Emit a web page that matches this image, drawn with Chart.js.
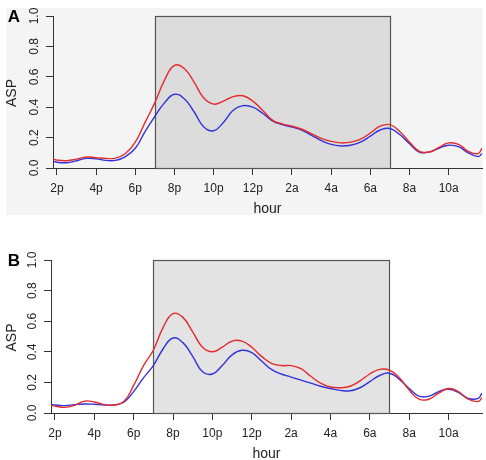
<!DOCTYPE html>
<html><head><meta charset="utf-8">
<script src="https://cdn.jsdelivr.net/npm/chart.js@4/dist/chart.umd.min.js"></script>
<style>
html,body{margin:0;padding:0;background:#fff;}
#wrap{position:relative;width:486px;height:460px;overflow:hidden;}
canvas{position:absolute;left:0;}
</style></head><body>
<div id="wrap">
<canvas id="cA" width="486" height="230" style="top:0px"></canvas>
<canvas id="cB" width="486" height="220" style="top:240px"></canvas>
</div>
<script>
// hour of day (14 = 2p, 26 = 2a next day, ...)
const hours = [13.8,14,14.5,15,15.5,16,16.5,17,17.5,18,18.5,19,19.5,20,20.5,21,21.5,22,22.5,23,23.5,24,24.5,25,25.5,26,26.5,27,27.5,28,28.5,29,29.5,30,30.5,31,31.5,32,32.5,33,33.5,34,34.5,35,35.5,35.7];
const tickHours = [14,16,18,20,22,24,26,28,30,32,34];
const tickLabels = ['2p','4p','6p','8p','10p','12p','2a','4a','6a','8a','10a'];
const yTicks = [0,0.2,0.4,0.6,0.8,1.0];
const yTickLabels = ['0.0','0.2','0.4','0.6','0.8','1.0'];
const darkStart = 19, darkEnd = 31;

const aRed  = [0.060,0.052,0.048,0.058,0.072,0.068,0.063,0.065,0.095,0.17,0.30,0.43,0.58,0.675,0.655,0.565,0.46,0.42,0.44,0.47,0.475,0.44,0.38,0.315,0.29,0.275,0.255,0.225,0.195,0.175,0.165,0.17,0.19,0.23,0.275,0.285,0.24,0.17,0.11,0.105,0.135,0.165,0.155,0.11,0.095,0.13];
const aBlue = [0.045,0.038,0.035,0.048,0.063,0.060,0.050,0.050,0.075,0.13,0.24,0.34,0.43,0.485,0.455,0.37,0.27,0.245,0.30,0.38,0.41,0.40,0.36,0.31,0.285,0.27,0.25,0.215,0.18,0.155,0.145,0.15,0.17,0.21,0.25,0.26,0.22,0.16,0.105,0.105,0.13,0.15,0.14,0.10,0.075,0.095];
const bRed  = [0.050,0.045,0.037,0.050,0.078,0.072,0.055,0.052,0.075,0.18,0.31,0.41,0.56,0.65,0.625,0.53,0.43,0.40,0.43,0.47,0.47,0.43,0.37,0.325,0.31,0.31,0.29,0.24,0.195,0.17,0.165,0.175,0.21,0.255,0.285,0.28,0.23,0.15,0.09,0.09,0.13,0.16,0.14,0.09,0.075,0.10];
const bBlue = [0.057,0.052,0.048,0.055,0.059,0.057,0.052,0.053,0.070,0.14,0.23,0.31,0.42,0.49,0.46,0.37,0.27,0.255,0.31,0.38,0.41,0.395,0.34,0.285,0.255,0.235,0.215,0.195,0.175,0.16,0.148,0.145,0.165,0.205,0.245,0.26,0.22,0.16,0.11,0.11,0.14,0.155,0.135,0.095,0.095,0.13];

const FONT = '"Liberation Sans", Arial, Helvetica, sans-serif';
const RED = '#e42a2c', BLUE = '#3232dc';

function panelPlugin(o) {
  return {
    id: 'panel' + o.letter,
    beforeDraw(chart) {
      if (!o.bg) return;
      const ctx = chart.ctx;
      ctx.save();
      ctx.fillStyle = o.bg;
      ctx.fillRect(o.bgRect[0], o.bgRect[1], o.bgRect[2], o.bgRect[3]);
      ctx.restore();
    },
    beforeDatasetsDraw(chart) {
      const {ctx, scales: {x, y}} = chart;
      const x0 = x.getPixelForValue(darkStart), x1 = x.getPixelForValue(darkEnd);
      const y0 = y.getPixelForValue(1), y1 = y.getPixelForValue(0);
      ctx.save();
      ctx.fillStyle = o.shade;
      ctx.fillRect(x0, y0, x1 - x0, y1 - y0);
      ctx.strokeStyle = '#555';
      ctx.lineWidth = 1.2;
      ctx.strokeRect(Math.round(x0) + 0.5, Math.round(y0) + 0.5, Math.round(x1 - x0), Math.round(y1 - y0));
      ctx.restore();
    },
    afterDraw(chart) {
      const {ctx, chartArea, scales: {x, y}} = chart;
      ctx.save();
      ctx.fillStyle = '#222';
      ctx.textAlign = 'center';
      ctx.textBaseline = 'middle';
      ctx.font = '12px ' + FONT;
      yTicks.forEach((v, i) => {
        const py = y.getPixelForValue(v);
        ctx.save();
        ctx.translate(chartArea.left - 18, py);
        ctx.rotate(-Math.PI / 2);
        ctx.fillText(yTickLabels[i], 0, 0);
        ctx.restore();
      });
      ctx.font = '14px ' + FONT;
      ctx.save();
      ctx.translate(12, (chartArea.top + chartArea.bottom) / 2 + 1);
      ctx.rotate(-Math.PI / 2);
      ctx.fillText('ASP', 0, 0);
      ctx.restore();
      ctx.fillText('hour', (chartArea.left + chartArea.right) / 2, chartArea.bottom + 41);
      ctx.fillStyle = '#000';
      ctx.font = 'bold 17px ' + FONT;
      ctx.fillText(o.letter, 14, o.letterY);
      ctx.restore();
    }
  };
}

function makeChart(id, red, blue, o) {
  return new Chart(document.getElementById(id), {
    type: 'line',
    data: {
      datasets: [
        {data: hours.map((h, i) => ({x: h, y: red[i]})), borderColor: RED, borderWidth: 1.4, pointRadius: 0, tension: 0.45, fill: false},
        {data: hours.map((h, i) => ({x: h, y: blue[i]})), borderColor: BLUE, borderWidth: 1.4, pointRadius: 0, tension: 0.45, fill: false}
      ]
    },
    options: {
      responsive: false,
      animation: false,
      events: [],
      layout: {padding: {top: o.top, right: 4, left: 0, bottom: 0}},
      plugins: {legend: {display: false}, tooltip: {enabled: false}},
      scales: {
        x: {
          type: 'linear', min: 13.8, max: 35.7,
          afterBuildTicks: s => { s.ticks = tickHours.map(v => ({value: v})); },
          afterFit: s => { s.height = o.xh; },
          ticks: {
            callback: v => tickLabels[tickHours.indexOf(v)] ?? '',
            font: {family: FONT, size: 12}, color: '#222', padding: 6,
            maxRotation: 0, minRotation: 0, autoSkip: false
          },
          grid: {display: true, drawOnChartArea: false, drawTicks: true, tickLength: 7, color: '#333'},
          border: {display: true, color: '#333', width: 1}
        },
        y: {
          type: 'linear', min: 0, max: 1,
          afterBuildTicks: s => { s.ticks = yTicks.map(v => ({value: v})); },
          afterFit: s => { s.width = o.yw; },
          ticks: {display: false},
          grid: {display: true, drawOnChartArea: false, drawTicks: true, tickLength: 7, color: '#333'},
          border: {display: true, color: '#333', width: 1}
        }
      }
    },
    plugins: [panelPlugin(o)]
  });
}

makeChart('cA', aRed, aBlue, {letter: 'A', letterY: 17, top: 16, xh: 62, yw: 53, shade: '#dcdcdc', bg: '#f4f4f4', bgRect: [6, 8, 477, 207]});
makeChart('cB', bRed, bBlue, {letter: 'B', letterY: 21, top: 20, xh: 47, yw: 51, shade: '#e3e3e3', bg: null});
</script>
</body></html>
